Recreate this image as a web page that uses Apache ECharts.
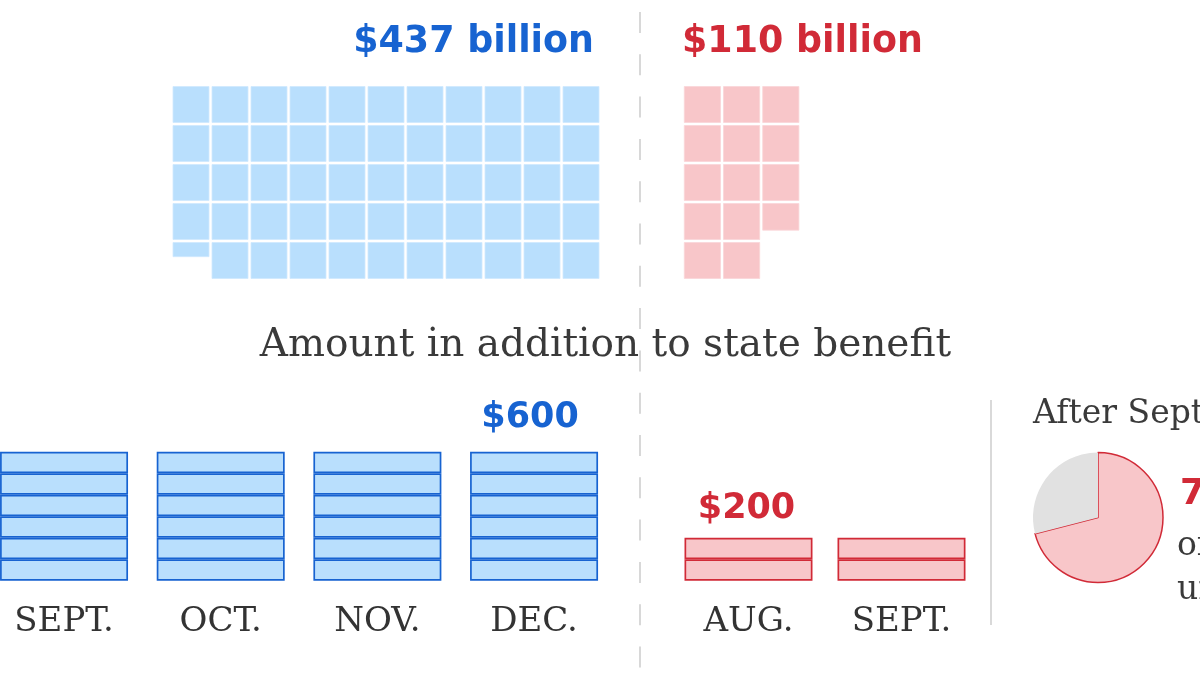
<!DOCTYPE html>
<html><head><meta charset="utf-8">
<script src="https://cdn.jsdelivr.net/npm/echarts@6/dist/echarts.min.js"></script>
<style>html,body{margin:0;padding:0;background:#fff}#c{width:1200px;height:675px}</style>
</head><body><div id="c"></div>
<script>
// ---- data ----
const totalsBillion = [437, 110];                 // federal totals, $ billion
const blueWaffleColumns = [4.44, 5, 5, 5, 5, 5, 5, 5, 5, 5, 5]; // filled cells per column (top-down)
const redWaffleColumns = [5, 5, 3.76];
const middleTitle = 'Amount in addition to state benefit';
const blueMonths = ['SEPT.', 'OCT.', 'NOV.', 'DEC.'];
const blueWeekly = [600, 600, 600, 600];
const redMonths = ['AUG.', 'SEPT.'];
const redWeekly = [200, 200];
const stripUnit = 100;
const pieNames = ['Share', 'Rest'];
const pieValues = [71, 29];
const pieTexts = ['After September', '71%', 'of the jobless', 'unemployed'];

// ---- colours ----
const BLUE = '#1763d1', BLUE_FILL = '#b9dffd';
const RED = '#d12a37', RED_FILL = '#f8c6c9';
const SANS = 'DejaVu Sans', SERIF = 'DejaVu Serif';

function cellsFrom(cols) {
  const out = [];
  cols.forEach((f, c) => {
    for (let r = 0; r < Math.ceil(f); r++) out.push([c, r, Math.min(1, f - r)]);
  });
  return out;
}
function waffleRender(color) {
  return function (params, api) {
    const c = api.value(0), r = api.value(1), fr = api.value(2);
    const a = api.coord([c - 0.5, r]);
    const b = api.coord([c + 0.5, r + fr]);
    return {
      type: 'rect',
      shape: { x: a[0] + 1.5, y: a[1] + 1.5, width: b[0] - a[0] - 3, height: b[1] - a[1] - 3 },
      style: { fill: color, stroke: color === BLUE_FILL ? '#cfe9fe' : '#fad6d8', lineWidth: 0.8 }
    };
  };
}
function stripSeries(values, xi, yi, color, fill, labelIdx, labelDist, labelDx) {
  const n = Math.max(...values) / stripUnit;
  const arr = [];
  for (let k = 0; k < n; k++) {
    arr.push({
      type: 'bar', xAxisIndex: xi, yAxisIndex: yi, stack: 's' + xi, barWidth: 128,
      silent: true,
      itemStyle: { color: fill, borderColor: color, borderWidth: 1.7 },
      data: values.map((v, i) => {
        const val = Math.min(stripUnit, Math.max(0, v - k * stripUnit));
        if (k === n - 1 && i === labelIdx) {
          return { value: val, label: { show: true, position: 'top', distance: labelDist, offset: [labelDx, 0],
            formatter: '$' + v, color: color, fontFamily: SANS, fontWeight: 'bold', fontSize: 35 } };
        }
        return val;
      })
    });
  }
  return arr;
}
const hiddenVal = (min, max, inv) => ({ type: 'value', min, max, inverse: !!inv, show: false });
const catAxis = (data, gi) => ({
  type: 'category', data, gridIndex: gi, axisLine: { show: false }, axisTick: { show: false },
  axisLabel: { fontFamily: SERIF, fontSize: 34, color: '#333', margin: 24 }
});
const G = { outerBoundsMode: 'none', containLabel: false };

const chart = echarts.init(document.getElementById('c'), null, { renderer: 'canvas' });
chart.setOption({
  animation: false,
  backgroundColor: '#fff',
  grid: [
    Object.assign({ left: 171.5, top: 85, width: 429, height: 195 }, G),
    Object.assign({ left: 682.8, top: 85, width: 117.6, height: 195 }, G),
    Object.assign({ left: -14.3, top: 451.7, width: 626.7, height: 129 }, G),
    Object.assign({ left: 672, top: 451.7, width: 306, height: 129 }, G)
  ],
  xAxis: [
    Object.assign(hiddenVal(-0.5, blueWaffleColumns.length - 0.5), { gridIndex: 0 }),
    Object.assign(hiddenVal(-0.5, redWaffleColumns.length - 0.5), { gridIndex: 1 }),
    catAxis(blueMonths, 2),
    catAxis(redMonths, 3)
  ],
  yAxis: [
    Object.assign(hiddenVal(0, 5, true), { gridIndex: 0 }),
    Object.assign(hiddenVal(0, 5, true), { gridIndex: 1 }),
    { type: 'value', gridIndex: 2, min: 0, max: 600, show: false },
    { type: 'value', gridIndex: 3, min: 0, max: 600, show: false }
  ],
  series: [
    { type: 'custom', xAxisIndex: 0, yAxisIndex: 0, silent: true, data: cellsFrom(blueWaffleColumns), renderItem: waffleRender(BLUE_FILL) },
    { type: 'custom', xAxisIndex: 1, yAxisIndex: 1, silent: true, data: cellsFrom(redWaffleColumns), renderItem: waffleRender(RED_FILL) },
    ...stripSeries(blueWeekly, 2, 2, BLUE, BLUE_FILL, 3, 16, -4),
    ...stripSeries(redWeekly, 3, 3, RED, RED_FILL, 0, 11, -2),
    {
      type: 'pie', center: [1098, 517.5], radius: 65, startAngle: 90, clockwise: true,
      silent: true, label: { show: false }, labelLine: { show: false },
      data: [
        { name: pieNames[0], value: pieValues[0], itemStyle: { color: RED_FILL, borderColor: RED, borderWidth: 1.5 } },
        { name: pieNames[1], value: pieValues[1], itemStyle: { color: '#e1e1e1', borderWidth: 0 } }
      ]
    }
  ],
  graphic: [
    { type: 'line', silent: true, shape: { x1: 640, y1: 12, x2: 640, y2: 675 },
      style: { stroke: '#d8d8d8', lineWidth: 2, lineDash: [21, 21.3] }, z: 0 },
    { type: 'line', silent: true, shape: { x1: 991, y1: 400, x2: 991, y2: 625 },
      style: { stroke: '#d9d9d9', lineWidth: 2 } },
    { type: 'text', x: 594, y: 43, style: { text: '$' + totalsBillion[0] + ' billion', fill: BLUE,
      font: 'bold 36.4px "' + SANS + '"', textAlign: 'right', textVerticalAlign: 'middle' } },
    { type: 'text', x: 682, y: 43, style: { text: '$' + totalsBillion[1] + ' billion', fill: RED,
      font: 'bold 36.4px "' + SANS + '"', textAlign: 'left', textVerticalAlign: 'middle' } },
    { type: 'text', x: 605.5, y: 346, style: { text: middleTitle, fill: '#3a3a3a',
      font: '39px "' + SERIF + '"', textAlign: 'center', textVerticalAlign: 'middle' } },
    { type: 'text', x: 1033, y: 414, style: { text: pieTexts[0], fill: '#3a3a3a',
      font: '33px "' + SERIF + '"', textAlign: 'left', textVerticalAlign: 'middle' } },
    { type: 'text', x: 1180, y: 495, style: { text: pieTexts[1], fill: RED,
      font: 'bold 36px "' + SANS + '"', textAlign: 'left', textVerticalAlign: 'middle' } },
    { type: 'text', x: 1177, y: 546, style: { text: pieTexts[2], fill: '#3a3a3a',
      font: '33px "' + SERIF + '"', textAlign: 'left', textVerticalAlign: 'middle' } },
    { type: 'text', x: 1177, y: 590, style: { text: pieTexts[3], fill: '#3a3a3a',
      font: '33px "' + SERIF + '"', textAlign: 'left', textVerticalAlign: 'middle' } }
  ]
});
</script></body></html>
